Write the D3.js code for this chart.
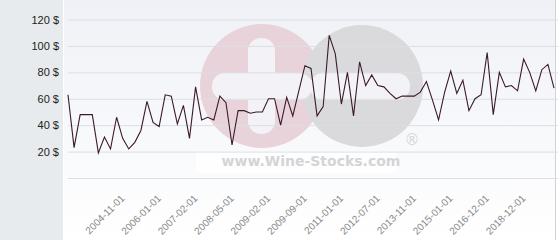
<!DOCTYPE html>
<html>
<head>
<meta charset="utf-8">
<script src="https://cdn.jsdelivr.net/npm/d3@7"></script>
<style>
  body { margin: 0; background: #fff; }
  svg { display: block; font-family: "DejaVu Sans", sans-serif; }
</style>
</head>
<body>
<div class="chart"></div>
<script>
// data
const dates = [
  "2003-05-01","2003-07-01","2003-09-01","2003-11-01","2004-01-01","2004-03-01","2004-05-01","2004-07-01","2004-09-01","2004-11-01",
  "2005-02-01","2005-04-01","2005-06-01","2005-08-01","2005-10-01","2006-01-01",
  "2006-03-01","2006-05-01","2006-07-01","2006-09-01","2006-11-01","2007-02-01",
  "2007-04-01","2007-07-01","2007-09-01","2007-11-01","2008-02-01","2008-05-01",
  "2008-06-01","2008-08-01","2008-09-01","2008-11-01","2008-12-01","2009-02-01",
  "2009-03-01","2009-04-01","2009-05-01","2009-06-01","2009-07-01","2009-09-01",
  "2009-11-01","2010-02-01","2010-04-01","2010-07-01","2010-10-01","2011-01-01",
  "2011-04-01","2011-07-01","2011-10-01","2012-01-01","2012-04-01","2012-07-01",
  "2012-09-01","2012-12-01","2013-03-01","2013-05-01","2013-08-01","2013-11-01",
  "2014-01-01","2014-03-01","2014-05-01","2014-08-01","2014-10-01","2015-01-01",
  "2015-05-01","2015-09-01","2016-01-01","2016-04-01","2016-08-01","2016-12-01",
  "2017-04-01","2017-08-01","2017-12-01","2018-03-01","2018-07-01","2018-12-01",
  "2019-04-01","2019-08-01","2019-12-01","2020-04-01","2020-08-01"
];
const prices = [
  63,23,48,48,48,19,31,22,46,30,
  22,27,36,58,42,39,
  63,62,41,55,30,69,
  44,46,44,62,57,25,
  51,51,49,50,50,60,
  60,40,61,47,66,85,
  83,47,54,108,94,56,
  80,47,88,70,78,70,
  69,64,60,62,62,62,
  65,73,59,44,65,81,
  64,74,51,60,63,95,
  48,80,69,70,66,90,
  80,66,82,86,68
];
const xTickLabels = ["2004-11-01","2006-01-01","2007-02-01","2008-05-01","2009-02-01","2009-09-01",
  "2011-01-01","2012-07-01","2013-11-01","2015-01-01","2016-12-01","2018-12-01"];
const yTicks = [0, 20, 40, 60, 80, 100, 120];

const width = 560, height = 240;
const margin = {top: 19.5, right: 6, bottom: 62, left: 68};

var svg = d3.select(".chart").append("svg")
    .attr("width", width)
    .attr("height", height);

var defs = svg.append("defs");
var grad = defs.append("linearGradient")
    .attr("id", "bg").attr("x1", 0).attr("y1", 0).attr("x2", 0).attr("y2", 1);
grad.append("stop").attr("offset", "0%").attr("stop-color", "#eff1f6");
grad.append("stop").attr("offset", "100%").attr("stop-color", "#ffffff");

// backgrounds
svg.append("rect").attr("x", 0).attr("y", 0).attr("width", 63).attr("height", height)
    .attr("fill", "#e7ebee");
svg.append("rect").attr("x", 64).attr("y", 0).attr("width", 491).attr("height", height)
    .attr("fill", "url(#bg)");
svg.append("line").attr("x1", 555.5).attr("x2", 555.5).attr("y1", 0).attr("y2", height)
    .attr("stroke", "#cfd3d8");

// watermark
var wm = svg.append("g").attr("class", "watermark");
wm.append("circle").attr("cx", 262).attr("cy", 86).attr("r", 62).attr("fill", "#e9d3da");
wm.append("circle").attr("cx", 362).attr("cy", 86).attr("r", 61).attr("fill", "#dadadc");
wm.append("rect").attr("x", 248).attr("y", 38).attr("width", 27).attr("height", 96).attr("rx", 13)
    .attr("fill", "#f3f3f7");
wm.append("rect").attr("x", 212).attr("y", 73).attr("width", 100).attr("height", 27).attr("rx", 13)
    .attr("fill", "#f3f3f7");
wm.append("rect").attr("x", 310).attr("y", 73).attr("width", 100).attr("height", 27).attr("rx", 13)
    .attr("fill", "#f3f3f7");
wm.append("rect").attr("x", 196).attr("y", 151).attr("width", 200).attr("height", 22)
    .attr("fill", "#ffffff").attr("opacity", 0.7);
wm.append("text").attr("x", 311).attr("y", 166).attr("text-anchor", "middle")
    .attr("font-size", 14).attr("font-weight", "bold").attr("fill", "#d4d4d6")
    .text("www.Wine-Stocks.com");
wm.append("text").attr("x", 412).attr("y", 145).attr("text-anchor", "middle")
    .attr("font-size", 15).attr("fill", "#d6d6d8")
    .text("®");

// scales
var x = d3.scalePoint()
    .domain(dates)
    .range([margin.left, width - margin.right]);

var y = d3.scaleLinear()
    .domain([0, 120])
    .range([height - margin.bottom, margin.top]);

// y grid + labels
var yAxis = svg.append("g")
    .attr("class", "left")
    .attr("transform", "translate(" + margin.left + ",0)")
    .call(d3.axisLeft(y).tickValues(yTicks)
        .tickSize(-(width - margin.left - 2))
        .tickPadding(9)
        .tickFormat(function(d) { return d ? d + " $" : ""; }));
yAxis.select(".domain").remove();
yAxis.selectAll(".tick line").attr("stroke", "#dcdee3");
yAxis.selectAll(".tick text")
    .attr("fill", "#222")
    .attr("font-size", 11);

// x labels
var xAxis = svg.append("g")
    .attr("class", "bottom")
    .attr("transform", "translate(0," + (height - margin.bottom) + ")")
    .call(d3.axisBottom(x).tickValues(xTickLabels).tickSize(0));
xAxis.select(".domain").remove();
xAxis.selectAll(".tick text")
    .attr("fill", "#888")
    .attr("font-size", 10)
    .attr("text-anchor", "end")
    .attr("dy", null)
    .attr("y", 0)
    .attr("transform", "translate(2,21) rotate(-45)");

// price line
var line = d3.line()
    .x(function(d, i) { return x(dates[i]); })
    .y(function(d) { return y(d); });

svg.append("path")
    .datum(prices)
    .attr("fill", "none")
    .attr("stroke", "#3b1a2a")
    .attr("stroke-width", 1.1)
    .attr("d", line);
</script>
</body>
</html>
